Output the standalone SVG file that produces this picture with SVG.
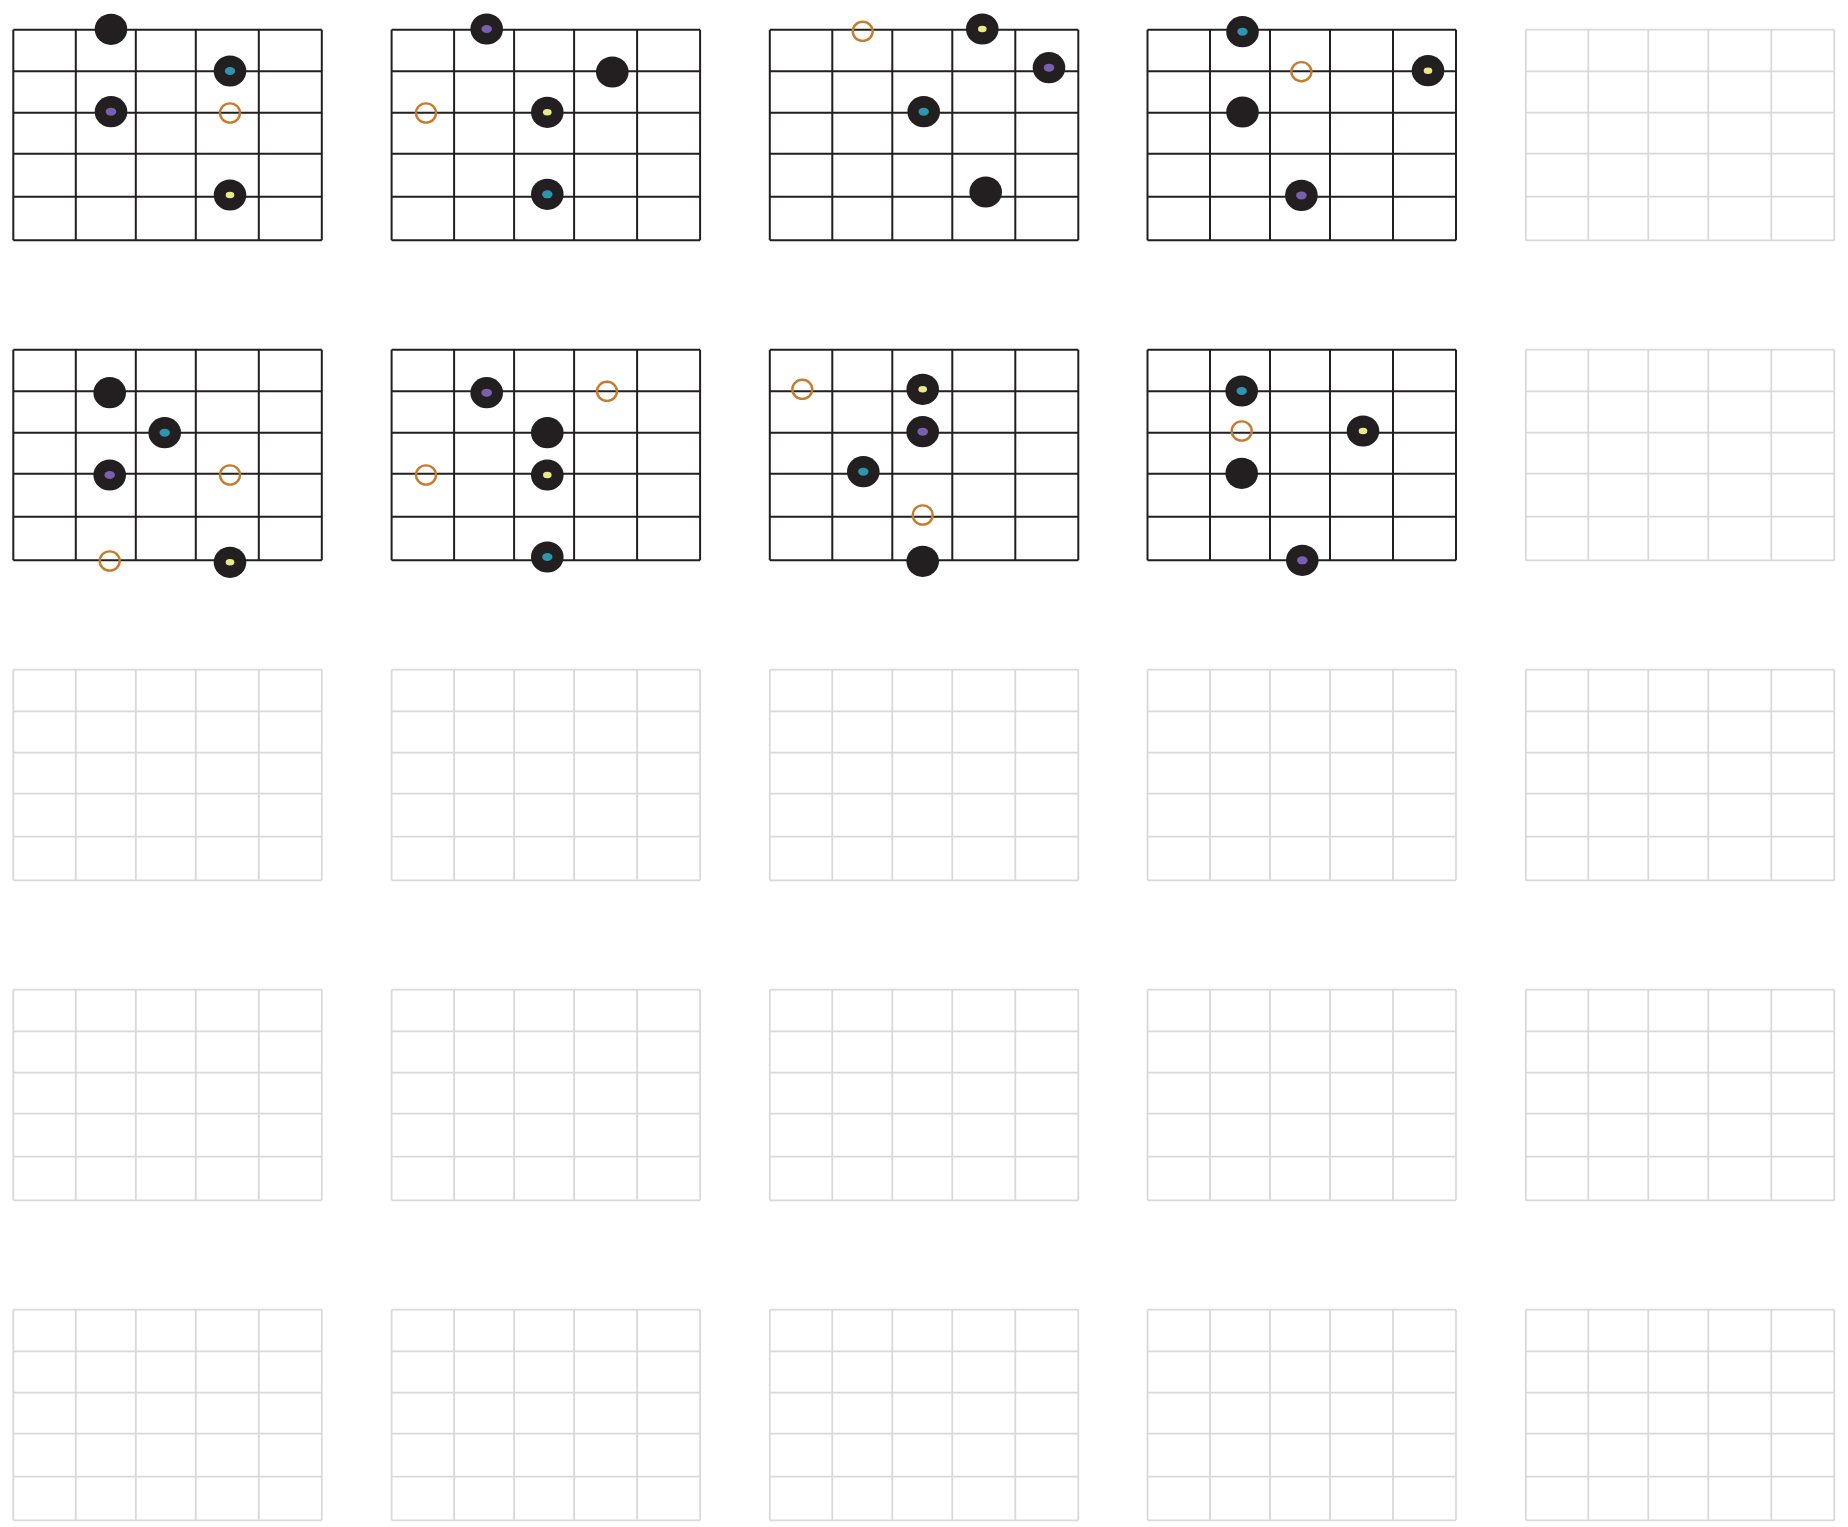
<svg xmlns="http://www.w3.org/2000/svg" xmlns:xlink="http://www.w3.org/1999/xlink" width="1848" height="1527" viewBox="0 0 1848 1527">
<style>
.gb{fill:none;stroke:#231f20;stroke-width:2}
.gg{fill:none;stroke:#d9d9d9;stroke-width:1.8}
.dot{fill:#231f20}
.t{fill:#2b96ae}
.p{fill:#7a5fae}
.y{fill:#ebe88a}
.ring{fill:none;stroke:#c77b2b;stroke-width:2.4}
</style>
<defs>
<path id="grid" d="M0,0V210.6M62.5,0V210.6M122.5,0V210.6M182.5,0V210.6M245.5,0V210.6M308.5,0V210.6M0,0H308.5M0,41.6H308.5M0,83H308.5M0,124H308.5M0,167H308.5M0,210.6H308.5"/>
<g id="dk"><ellipse class="dot" rx="16.3" ry="15.6"/></g>
<g id="dt"><ellipse class="dot" rx="16.3" ry="15.6"/><ellipse class="t" rx="5.2" ry="4"/></g>
<g id="dp"><ellipse class="dot" rx="16.3" ry="15.6"/><ellipse class="p" rx="5.3" ry="4"/></g>
<g id="dy"><ellipse class="dot" rx="16.3" ry="15.6"/><ellipse class="y" rx="4.3" ry="3.3"/></g>
<g id="ro"><ellipse class="ring" rx="10" ry="9.6"/></g>
</defs>

<g id="d11">
<use href="#grid" class="gb" x="13.3" y="29.7"/>
<use href="#dk" x="111" y="29.3"/>
<use href="#dt" x="230" y="71"/>
<use href="#dp" x="111" y="111.7"/>
<use href="#ro" x="230" y="113"/>
<use href="#dy" x="230" y="195"/>
</g>
<g id="d12">
<use href="#grid" class="gb" x="391.6" y="29.7"/>
<use href="#dp" x="486.7" y="29"/>
<use href="#dk" x="612.3" y="72"/>
<use href="#dy" x="547.3" y="112.3"/>
<use href="#dt" x="547.3" y="194.3"/>
<use href="#ro" x="426" y="113"/>
</g>
<g id="d13">
<use href="#grid" class="gb" x="769.8" y="29.7"/>
<use href="#ro" x="862.7" y="31.3"/>
<use href="#dy" x="982.3" y="29"/>
<use href="#dp" x="1049" y="67.7"/>
<use href="#dt" x="923.7" y="111.7"/>
<use href="#dk" x="985.7" y="192"/>
</g>
<g id="d14">
<use href="#grid" class="gb" x="1147.5" y="29.7"/>
<use href="#dt" x="1242.5" y="31.7"/>
<use href="#ro" x="1301.4" y="71.7"/>
<use href="#dy" x="1428" y="70.7"/>
<use href="#dk" x="1242.5" y="112"/>
<use href="#dp" x="1301.4" y="195.4"/>
</g>
<g id="d15"><use href="#grid" class="gg" x="1525.8" y="29.7"/></g>

<g id="d21">
<use href="#grid" class="gb" x="13.3" y="349.7"/>
<use href="#dk" x="109.7" y="392.7"/>
<use href="#dt" x="164.7" y="432.7"/>
<use href="#dp" x="109.7" y="475"/>
<use href="#ro" x="230" y="475"/>
<use href="#ro" x="109.7" y="561"/>
<use href="#dy" x="230" y="562.3"/>
</g>
<g id="d22">
<use href="#grid" class="gb" x="391.6" y="349.7"/>
<use href="#dp" x="486.7" y="392.7"/>
<use href="#ro" x="607" y="391.3"/>
<use href="#dk" x="547.3" y="432.7"/>
<use href="#dy" x="547.3" y="475"/>
<use href="#ro" x="426" y="475"/>
<use href="#dt" x="547.3" y="557"/>
</g>
<g id="d23">
<use href="#grid" class="gb" x="769.8" y="349.7"/>
<use href="#ro" x="802.3" y="389.3"/>
<use href="#dy" x="922.7" y="389.3"/>
<use href="#dp" x="922.7" y="431.7"/>
<use href="#dt" x="863.3" y="471.7"/>
<use href="#ro" x="922.7" y="515"/>
<use href="#dk" x="922.7" y="561.3"/>
</g>
<g id="d24">
<use href="#grid" class="gb" x="1147.5" y="349.7"/>
<use href="#dt" x="1241.7" y="391"/>
<use href="#ro" x="1241.7" y="431"/>
<use href="#dy" x="1363" y="431"/>
<use href="#dk" x="1241.7" y="473.3"/>
<use href="#dp" x="1302.3" y="560.3"/>
</g>
<g id="d25"><use href="#grid" class="gg" x="1525.8" y="349.7"/></g>

<g id="d31"><use href="#grid" class="gg" x="13.3" y="669.7"/></g>
<g id="d32"><use href="#grid" class="gg" x="391.6" y="669.7"/></g>
<g id="d33"><use href="#grid" class="gg" x="769.8" y="669.7"/></g>
<g id="d34"><use href="#grid" class="gg" x="1147.5" y="669.7"/></g>
<g id="d35"><use href="#grid" class="gg" x="1525.8" y="669.7"/></g>

<g id="d41"><use href="#grid" class="gg" x="13.3" y="989.7"/></g>
<g id="d42"><use href="#grid" class="gg" x="391.6" y="989.7"/></g>
<g id="d43"><use href="#grid" class="gg" x="769.8" y="989.7"/></g>
<g id="d44"><use href="#grid" class="gg" x="1147.5" y="989.7"/></g>
<g id="d45"><use href="#grid" class="gg" x="1525.8" y="989.7"/></g>

<g id="d51"><use href="#grid" class="gg" x="13.3" y="1309.7"/></g>
<g id="d52"><use href="#grid" class="gg" x="391.6" y="1309.7"/></g>
<g id="d53"><use href="#grid" class="gg" x="769.8" y="1309.7"/></g>
<g id="d54"><use href="#grid" class="gg" x="1147.5" y="1309.7"/></g>
<g id="d55"><use href="#grid" class="gg" x="1525.8" y="1309.7"/></g>

<g id="connectors"/>
</svg>
